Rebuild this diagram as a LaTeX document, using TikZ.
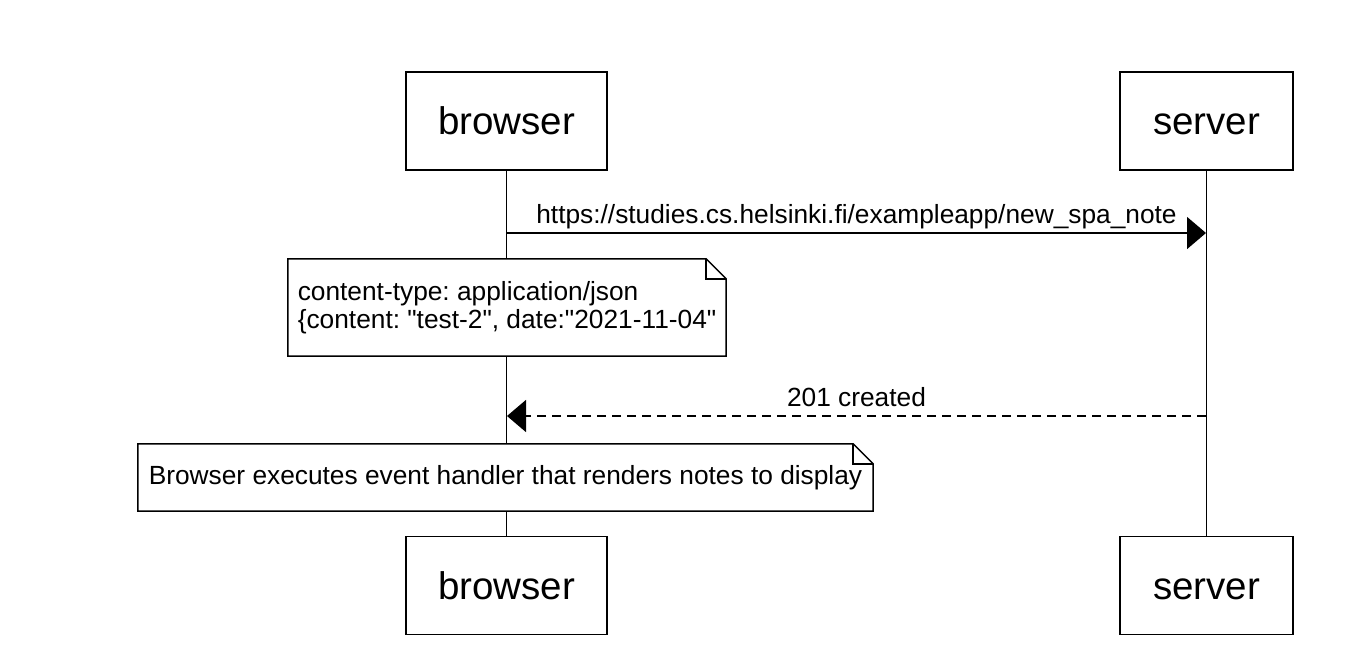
\documentclass[tikz,border=0pt]{standalone}
\usepackage{fontspec}
\setmainfont{Liberation Sans}[Ligatures=TeXOff]
\usetikzlibrary{arrows.meta}
\frenchspacing

\begin{document}
\begin{tikzpicture}[
        x=1pt, y=-1pt,
        actor/.style={draw, line width=1.5pt, fill=white, minimum height=98pt, text height=32pt, text depth=4pt, font=\fontsize{38.5}{44}\selectfont},
        notebox/.style={fill=white, inner sep=0pt, font=\fontsize{26.3}{28}\selectfont, align=left},
        msg/.style={-{Triangle[length=19pt, width=32pt]}, line width=1.5pt},
        reply/.style={msg, dash pattern=on 9pt off 6pt},
        msglabel/.style={above=9pt, inner sep=0pt, text depth=0pt, font=\fontsize{26.3}{28}\selectfont},
        life/.style={line width=1.5pt}
    ]
    \useasboundingbox (0,0) rectangle (1370,658);

    % ---- Actors, top and bottom ----
    \node[actor, minimum width=201pt] (bTop) at (506.5, 121) {browser};
    \node[actor, minimum width=173pt] (sTop) at (1206.5, 121) {server};
    \node[actor, minimum width=201pt] (bBot) at (506.5, 585.5) {browser};
    \node[actor, minimum width=173pt] (sBot) at (1206.5, 585.5) {server};

    % Lifelines
    \draw[life] (bTop) -- (bBot);
    \draw[life] (sTop) -- (sBot);

    % ---- Request ----
    \coordinate (reqB) at (507, 233);
    \coordinate (reqS) at (1206, 233);
    \draw[msg] (reqB) -- node[msglabel] {https://studies.cs.helsinki.fi/exampleapp/new\_spa\_note} (reqS);

    % Note with payload
    \node[notebox, minimum width=438pt, minimum height=97pt] (payload) at (507, 307.5)
        {content-type: application/json\\\{content: "test-2", date:"2021-11-04"};
    \draw[line width=1.5pt] (payload.south west) -- (payload.north west) -- ([xshift=-20pt]payload.north east)
        -- ([yshift=-20pt]payload.north east) -- (payload.south east) -- cycle;
    \draw[line width=1.5pt] ([xshift=-20pt]payload.north east) |- ([yshift=-20pt]payload.north east);

    % ---- Response ----
    \coordinate (resS) at (1206, 416);
    \coordinate (resB) at (507, 416);
    \draw[reply] (resS) -- node[msglabel] {201 created} (resB);

    % Note on rendering
    \node[notebox, minimum width=735pt, minimum height=67pt] (render) at (505.5, 477.5)
        {Browser executes event handler that renders notes to display};
    \draw[line width=1.5pt] (render.south west) -- (render.north west) -- ([xshift=-20pt]render.north east)
        -- ([yshift=-20pt]render.north east) -- (render.south east) -- cycle;
    \draw[line width=1.5pt] ([xshift=-20pt]render.north east) |- ([yshift=-20pt]render.north east);

\end{tikzpicture}
\end{document}
